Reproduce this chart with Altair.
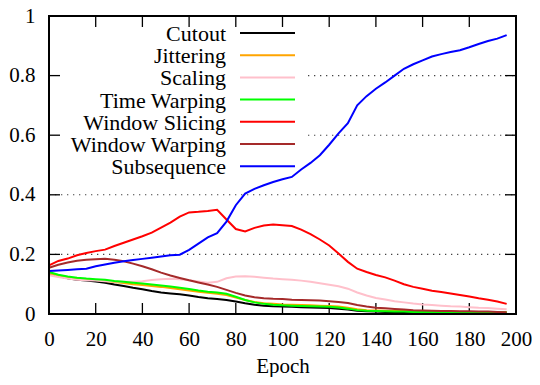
import altair as alt
import pandas as pd

epochs = [0, 4, 8, 12, 16, 20, 24, 28, 32, 36, 40, 44, 48, 52, 56, 60, 64, 68, 72, 76,
          80, 84, 88, 92, 96, 100, 104, 108, 112, 116, 120, 124, 128, 132, 136, 140, 144, 148, 152, 156,
          160, 164, 168, 172, 176, 180, 184, 188, 192, 196]

cutout = [0.137, 0.127, 0.120, 0.115, 0.112, 0.109, 0.105, 0.099, 0.094, 0.088,
          0.083, 0.077, 0.072, 0.069, 0.066, 0.062, 0.057, 0.053, 0.050, 0.047,
          0.042, 0.036, 0.031, 0.028, 0.026, 0.025, 0.024, 0.023, 0.022, 0.021,
          0.020, 0.018, 0.015, 0.011, 0.009, 0.008, 0.007, 0.007, 0.006, 0.006,
          0.006, 0.005, 0.005, 0.005, 0.005, 0.005, 0.004, 0.004, 0.004, 0.004]

jittering = [0.137, 0.128, 0.122, 0.118, 0.116, 0.114, 0.111, 0.107, 0.104, 0.100,
             0.097, 0.094, 0.091, 0.087, 0.083, 0.079, 0.075, 0.071, 0.068, 0.064,
             0.055, 0.047, 0.040, 0.036, 0.034, 0.032, 0.031, 0.030, 0.029, 0.028,
             0.027, 0.025, 0.021, 0.016, 0.013, 0.012, 0.011, 0.010, 0.010, 0.009,
             0.009, 0.008, 0.008, 0.008, 0.007, 0.007, 0.007, 0.006, 0.006, 0.006]

scaling = [0.130, 0.124, 0.119, 0.115, 0.113, 0.112, 0.110, 0.109, 0.108, 0.108,
           0.110, 0.114, 0.117, 0.118, 0.117, 0.113, 0.109, 0.105, 0.108, 0.120,
           0.126, 0.127, 0.125, 0.122, 0.119, 0.117, 0.115, 0.112, 0.108, 0.103,
           0.098, 0.093, 0.085, 0.072, 0.062, 0.054, 0.049, 0.043, 0.039, 0.035,
           0.032, 0.030, 0.028, 0.026, 0.025, 0.023, 0.021, 0.020, 0.018, 0.016]

time_warping = [0.141, 0.132, 0.126, 0.122, 0.119, 0.117, 0.115, 0.111, 0.108, 0.105,
                0.102, 0.099, 0.096, 0.092, 0.088, 0.084, 0.079, 0.075, 0.072, 0.068,
                0.058, 0.047, 0.039, 0.034, 0.031, 0.029, 0.028, 0.027, 0.026, 0.025,
                0.024, 0.022, 0.018, 0.013, 0.011, 0.010, 0.009, 0.008, 0.008, 0.007,
                0.007, 0.007, 0.006, 0.006, 0.006, 0.006, 0.005, 0.005, 0.005, 0.005]

window_slicing = [0.163, 0.178, 0.186, 0.197, 0.205, 0.211, 0.216, 0.228, 0.239, 0.250,
                  0.261, 0.273, 0.290, 0.307, 0.327, 0.341, 0.343, 0.346, 0.350, 0.317,
                  0.285, 0.277, 0.289, 0.297, 0.300, 0.298, 0.295, 0.283, 0.268, 0.250,
                  0.230, 0.203, 0.175, 0.152, 0.141, 0.131, 0.123, 0.112, 0.100, 0.091,
                  0.085, 0.078, 0.074, 0.069, 0.064, 0.059, 0.053, 0.048, 0.042, 0.034]

window_warping = [0.155, 0.165, 0.173, 0.179, 0.182, 0.184, 0.185, 0.182, 0.177, 0.169,
                  0.160, 0.150, 0.139, 0.129, 0.121, 0.113, 0.106, 0.099, 0.091, 0.081,
                  0.071, 0.062, 0.056, 0.053, 0.051, 0.050, 0.048, 0.047, 0.046, 0.045,
                  0.043, 0.040, 0.037, 0.030, 0.025, 0.021, 0.019, 0.017, 0.015, 0.013,
                  0.012, 0.011, 0.010, 0.010, 0.009, 0.009, 0.008, 0.008, 0.007, 0.006]

subsequence = [0.144, 0.146, 0.148, 0.150, 0.152, 0.160, 0.166, 0.172, 0.177, 0.181,
               0.185, 0.189, 0.193, 0.197, 0.199, 0.215, 0.236, 0.257, 0.271, 0.310,
               0.365, 0.404, 0.420, 0.432, 0.443, 0.452, 0.460, 0.485, 0.507, 0.533,
               0.568, 0.606, 0.640, 0.700, 0.731, 0.756, 0.777, 0.800, 0.823, 0.838,
               0.851, 0.864, 0.872, 0.879, 0.885, 0.895, 0.906, 0.916, 0.924, 0.936]

series_names = ["Cutout", "Jittering", "Scaling", "Time Warping",
                "Window Slicing", "Window Warping", "Subsequence"]
series_values = [cutout, jittering, scaling, time_warping,
                 window_slicing, window_warping, subsequence]
series_colors = ["#000000", "#FFA500", "#FFC0CB", "#00FF00",
                 "#FF0000", "#A52A2A", "#0000FF"]

x_ticks = [0, 20, 40, 60, 80, 100, 120, 140, 160, 180, 200]
y_ticks = [0, 0.2, 0.4, 0.6, 0.8, 1]

FONT = "Liberation Serif"
FS = 21

W, H = 467, 298
PX = W / 200.0   # px per epoch
PY = H / 1.0     # px per unit

rows = []
for name, vals in zip(series_names, series_values):
    for e, v in zip(epochs, vals):
        rows.append({"epoch": e, "value": v, "series": name})
df = pd.DataFrame(rows)

xs = alt.Scale(domain=[0, 200], nice=False, zero=False)
ys = alt.Scale(domain=[0, 1], nice=False)
color_scale = alt.Scale(domain=series_names, range=series_colors)

x_axis = alt.Axis(values=x_ticks, title="Epoch", grid=False, ticks=False, tickSize=0,
                  domain=False, labelFont=FONT, labelFontSize=FS, labelColor="black",
                  labelPadding=14, titleFont=FONT, titleFontSize=FS, titleFontWeight="normal",
                  titleColor="black", titlePadding=6, labelFlush=False)
y_axis = alt.Axis(values=y_ticks, title=None, grid=False, ticks=False, tickSize=0,
                  domain=False, format="~g", labelFont=FONT, labelFontSize=FS,
                  labelColor="black", labelPadding=14, labelFlush=False)

# grid segments (interrupted by the key box for upper lines)
grid_start = (308 - 49) / PX
grid_df = pd.DataFrame({
    "y": [0.2, 0.4, 0.6, 0.8],
    "x1": [0, 0, grid_start, grid_start],
    "x2": [200, 200, 200, 200],
})
grid = alt.Chart(grid_df).mark_rule(color="#444444", strokeWidth=1.1,
                                    strokeDash=[1.3, 4.7]).encode(
    x=alt.X("x1:Q", scale=xs, axis=x_axis),
    x2="x2:Q",
    y=alt.Y("y:Q", scale=ys, axis=y_axis),
)

# inward tick marks on all four sides
tlx = 11 / PX
tly = 11 / PY
tick_rows = []
for t in x_ticks[1:-1]:
    tick_rows.append({"x1": t, "x2": t, "y1": 0, "y2": tly})
    tick_rows.append({"x1": t, "x2": t, "y1": 1, "y2": 1 - tly})
for t in y_ticks[1:-1]:
    tick_rows.append({"x1": 0, "x2": tlx, "y1": t, "y2": t})
    tick_rows.append({"x1": 200, "x2": 200 - tlx, "y1": t, "y2": t})
ticks = alt.Chart(pd.DataFrame(tick_rows)).mark_rule(color="black", strokeWidth=1.3).encode(
    x=alt.X("x1:Q", scale=xs), x2="x2:Q",
    y=alt.Y("y1:Q", scale=ys), y2="y2:Q",
)

layers = [grid, ticks]
for name in series_names:
    layers.append(
        alt.Chart(df).transform_filter(alt.datum.series == name).mark_line(strokeWidth=2).encode(
            x=alt.X("epoch:Q", scale=xs),
            y=alt.Y("value:Q", scale=ys),
            color=alt.Color("series:N", scale=color_scale, legend=None),
        )
    )

# gnuplot-style key: right-aligned labels followed by line samples
key_top = 1 - 17 / PY
key_step = 22.2 / PY
n = len(series_names)
key_df = pd.DataFrame({
    "series": series_names,
    "ky": [key_top - i * key_step for i in range(n)],
    "tx": [(226 - 49) / PX] * n,
    "lx1": [(240 - 49) / PX] * n,
    "lx2": [(295 - 49) / PX] * n,
})
key_text = alt.Chart(key_df).mark_text(align="right", baseline="middle", font=FONT,
                                       fontSize=22, color="black", dy=1).encode(
    x=alt.X("tx:Q", scale=xs), y=alt.Y("ky:Q", scale=ys), text="series:N")
key_lines = alt.Chart(key_df).mark_rule(strokeWidth=2).encode(
    x=alt.X("lx1:Q", scale=xs), x2="lx2:Q", y=alt.Y("ky:Q", scale=ys),
    color=alt.Color("series:N", scale=color_scale, legend=None))

# plot border
border_df = pd.DataFrame({"x1": [0], "x2": [200], "y1": [0], "y2": [1]})
border = alt.Chart(border_df).mark_rect(fillOpacity=0, stroke="black", strokeWidth=2).encode(
    x=alt.X("x1:Q", scale=xs), x2="x2:Q", y=alt.Y("y1:Q", scale=ys), y2="y2:Q")

layers += [key_text, key_lines, border]

chart = alt.layer(*layers).properties(
    width=W, height=H,
    autosize=alt.AutoSizeParams(type="none"),
    padding={"left": 41, "top": 8, "right": 16, "bottom": 63},
)

chart.save("out.html", embed_options={"renderer": "svg", "actions": False})
